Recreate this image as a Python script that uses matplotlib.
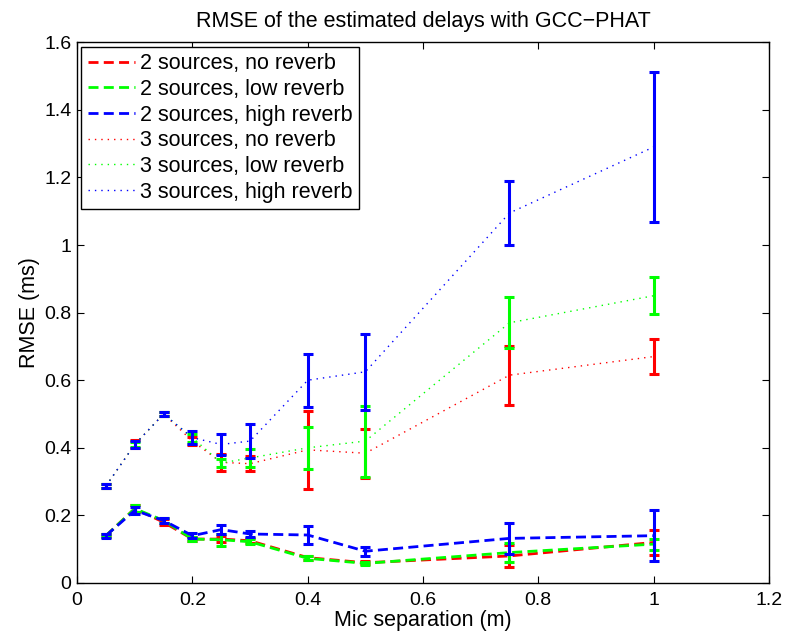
import numpy as np
import matplotlib
matplotlib.use('Agg')
import matplotlib.pyplot as plt
from matplotlib.ticker import FuncFormatter

plt.rcParams['font.family'] = ['Liberation Sans', 'DejaVu Sans']

# mic separations (m)
mic_sep = [0.05, 0.1, 0.15, 0.2, 0.25, 0.3, 0.4, 0.5, 0.75, 1.0]

# 2 sources
rmse_2_none = [0.14, 0.22, 0.18, 0.13, 0.13, 0.125, 0.075, 0.06, 0.08, 0.12]
err_2_none = [0.005, 0.01, 0.008, 0.006, 0.01, 0.007, 0.006, 0.005, 0.033, 0.037]
rmse_2_low = [0.14, 0.22, 0.185, 0.13, 0.128, 0.122, 0.073, 0.058, 0.09, 0.115]
err_2_low = [0.005, 0.01, 0.008, 0.006, 0.018, 0.007, 0.006, 0.005, 0.028, 0.016]
rmse_2_high = [0.14, 0.215, 0.185, 0.14, 0.158, 0.145, 0.142, 0.094, 0.132, 0.14]
err_2_high = [0.006, 0.01, 0.008, 0.008, 0.013, 0.01, 0.028, 0.013, 0.047, 0.075]

# 3 sources
rmse_3_none = [0.287, 0.41, 0.50, 0.42, 0.357, 0.353, 0.394, 0.384, 0.615, 0.67]
err_3_none = [0.006, 0.012, 0.007, 0.012, 0.026, 0.022, 0.116, 0.073, 0.087, 0.053]
rmse_3_low = [0.287, 0.41, 0.50, 0.43, 0.355, 0.37, 0.40, 0.42, 0.77, 0.85]
err_3_low = [0.006, 0.008, 0.007, 0.012, 0.013, 0.027, 0.063, 0.105, 0.075, 0.055]
rmse_3_high = [0.287, 0.41, 0.50, 0.43, 0.41, 0.42, 0.60, 0.625, 1.095, 1.29]
err_3_high = [0.006, 0.01, 0.007, 0.02, 0.03, 0.05, 0.078, 0.113, 0.095, 0.222]

labels = ['2 sources, no reverb', '2 sources, low reverb', '2 sources, high reverb',
          '3 sources, no reverb', '3 sources, low reverb', '3 sources, high reverb']
means = [rmse_2_none, rmse_2_low, rmse_2_high, rmse_3_none, rmse_3_low, rmse_3_high]
errs = [err_2_none, err_2_low, err_2_high, err_3_none, err_3_low, err_3_high]
colors = ['#ff0000', '#00ff00', '#0000ff'] * 2

fig = plt.figure(figsize=(7.87, 6.41), dpi=100)
ax = fig.add_axes([0.098, 0.0905, 0.879, 0.8435])

handles = []
for i in range(6):
    if i < 3:
        ls = dict(lw=2.0, dashes=(3.6, 1.9))
    else:
        ls = dict(lw=1.0, dashes=(1.0, 3.6))
    ax.errorbar(mic_sep, means[i], yerr=errs[i], fmt='none', ecolor=colors[i],
                elinewidth=2.2, capsize=3.6, capthick=2.2)
    h, = ax.plot(mic_sep, means[i], color=colors[i], label=labels[i], **ls)
    handles.append(h)

ax.set_xlim(0, 1.2)
ax.set_ylim(0, 1.6)
ax.set_xticks(np.arange(0, 1.21, 0.2))
ax.set_yticks(np.arange(0, 1.61, 0.2))
fmt = FuncFormatter(lambda v, p: '%g' % round(v, 2))
ax.xaxis.set_major_formatter(fmt)
ax.yaxis.set_major_formatter(fmt)
ax.tick_params(direction='in', top=True, right=True, labelsize=14, length=5)
ax.tick_params(axis='x', pad=6.5)
ax.tick_params(axis='y', pad=4)
for s in ax.spines.values():
    s.set_linewidth(1.0)

ax.set_title('RMSE of the estimated delays with GCC\u2212PHAT', fontsize=15.5, pad=11)
ax.set_xlabel('Mic separation (m)', fontsize=15.5, labelpad=1)
ax.set_ylabel('RMSE (ms)', fontsize=15.5, labelpad=3)

leg = ax.legend(handles=handles, loc='upper left', fontsize=15.5, fancybox=False,
                framealpha=1, edgecolor='black', handlelength=2.2, handletextpad=0.2,
                labelspacing=0.22, borderaxespad=0.2, borderpad=0.3)
leg.get_frame().set_linewidth(1.0)

fig.savefig('out.png', dpi=100)
